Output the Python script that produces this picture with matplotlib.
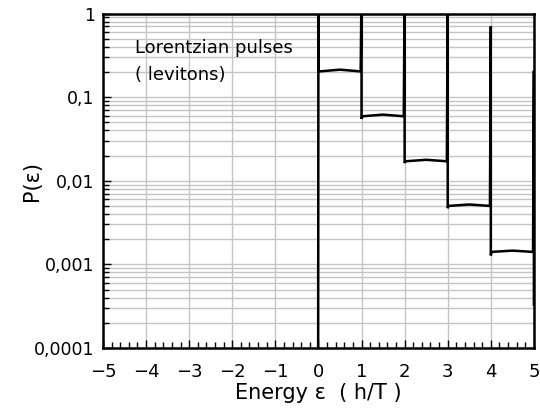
import matplotlib
matplotlib.use("Agg")
import matplotlib.pyplot as plt
from matplotlib.ticker import FixedLocator, FixedFormatter, LogLocator, NullFormatter, MultipleLocator

# energy (h/T) and probability
eps = [-5, -0.01, 0.0, 0.0, 0.02, 0.5, 0.98,
       1.0, 1.0, 1.02, 1.5, 1.98,
       2.0, 2.0, 2.02, 2.5, 2.98,
       3.0, 3.0, 3.02, 3.5, 3.98,
       4.0, 4.0, 4.02, 4.5, 4.98,
       5.0, 5.0]
prob = [1e-6, 1e-6, 2.0, 0.205, 0.203, 0.213, 0.203,
        2.0, 0.055, 0.059, 0.0618, 0.059,
        2.0, 0.0163, 0.0171, 0.0178, 0.0171,
        2.0, 0.0047, 0.0050, 0.0052, 0.0050,
        0.70, 0.00128, 0.00141, 0.00146, 0.00141,
        0.207, 0.00033]

ytick_vals = [1e-4, 1e-3, 1e-2, 1e-1, 1]
ytick_labels = ["0,0001", "0,001", "0,01", "0,1", "1"]
xtick_vals = [-5, -4, -3, -2, -1, 0, 1, 2, 3, 4, 5]

fig = plt.figure(figsize=(5.4, 4.13), dpi=100)
ax = fig.add_axes([0.1907, 0.1574, 0.798, 0.8099])

ax.plot(eps, prob, color="black", lw=1.8, solid_joinstyle="miter")

ax.set_yscale("log")
ax.set_xlim(-5, 5)
ax.set_ylim(1e-4, 1)

ax.yaxis.set_major_locator(FixedLocator(ytick_vals))
ax.yaxis.set_major_formatter(FixedFormatter(ytick_labels))
ax.yaxis.set_minor_locator(LogLocator(base=10, subs=range(2, 10)))
ax.yaxis.set_minor_formatter(NullFormatter())
ax.xaxis.set_major_locator(FixedLocator(xtick_vals))
ax.xaxis.set_minor_locator(MultipleLocator(0.2))

ax.grid(True, which="major", color="#c4c4c4", lw=1.0)
ax.grid(True, which="minor", axis="y", color="#c4c4c4", lw=1.0)
ax.set_axisbelow(True)

ax.tick_params(which="both", direction="in", width=1.0, color="black")
ax.tick_params(which="major", length=6)
ax.tick_params(which="minor", length=4)
ax.tick_params(axis="x", which="major", labelsize=13, pad=11)
ax.tick_params(axis="y", which="major", labelsize=12.5, pad=6)

for s in ax.spines.values():
    s.set_linewidth(1.8)

ax.set_xlabel("Energy ε  ( h/T )", fontsize=15, labelpad=1)
ax.set_ylabel("P(ε)", fontsize=15, labelpad=-6)

ax.text(0.075, 0.925, "Lorentzian pulses\n( levitons)", transform=ax.transAxes,
        fontsize=13, va="top", ha="left", linespacing=1.7)

fig.savefig("out.png", dpi=100)
